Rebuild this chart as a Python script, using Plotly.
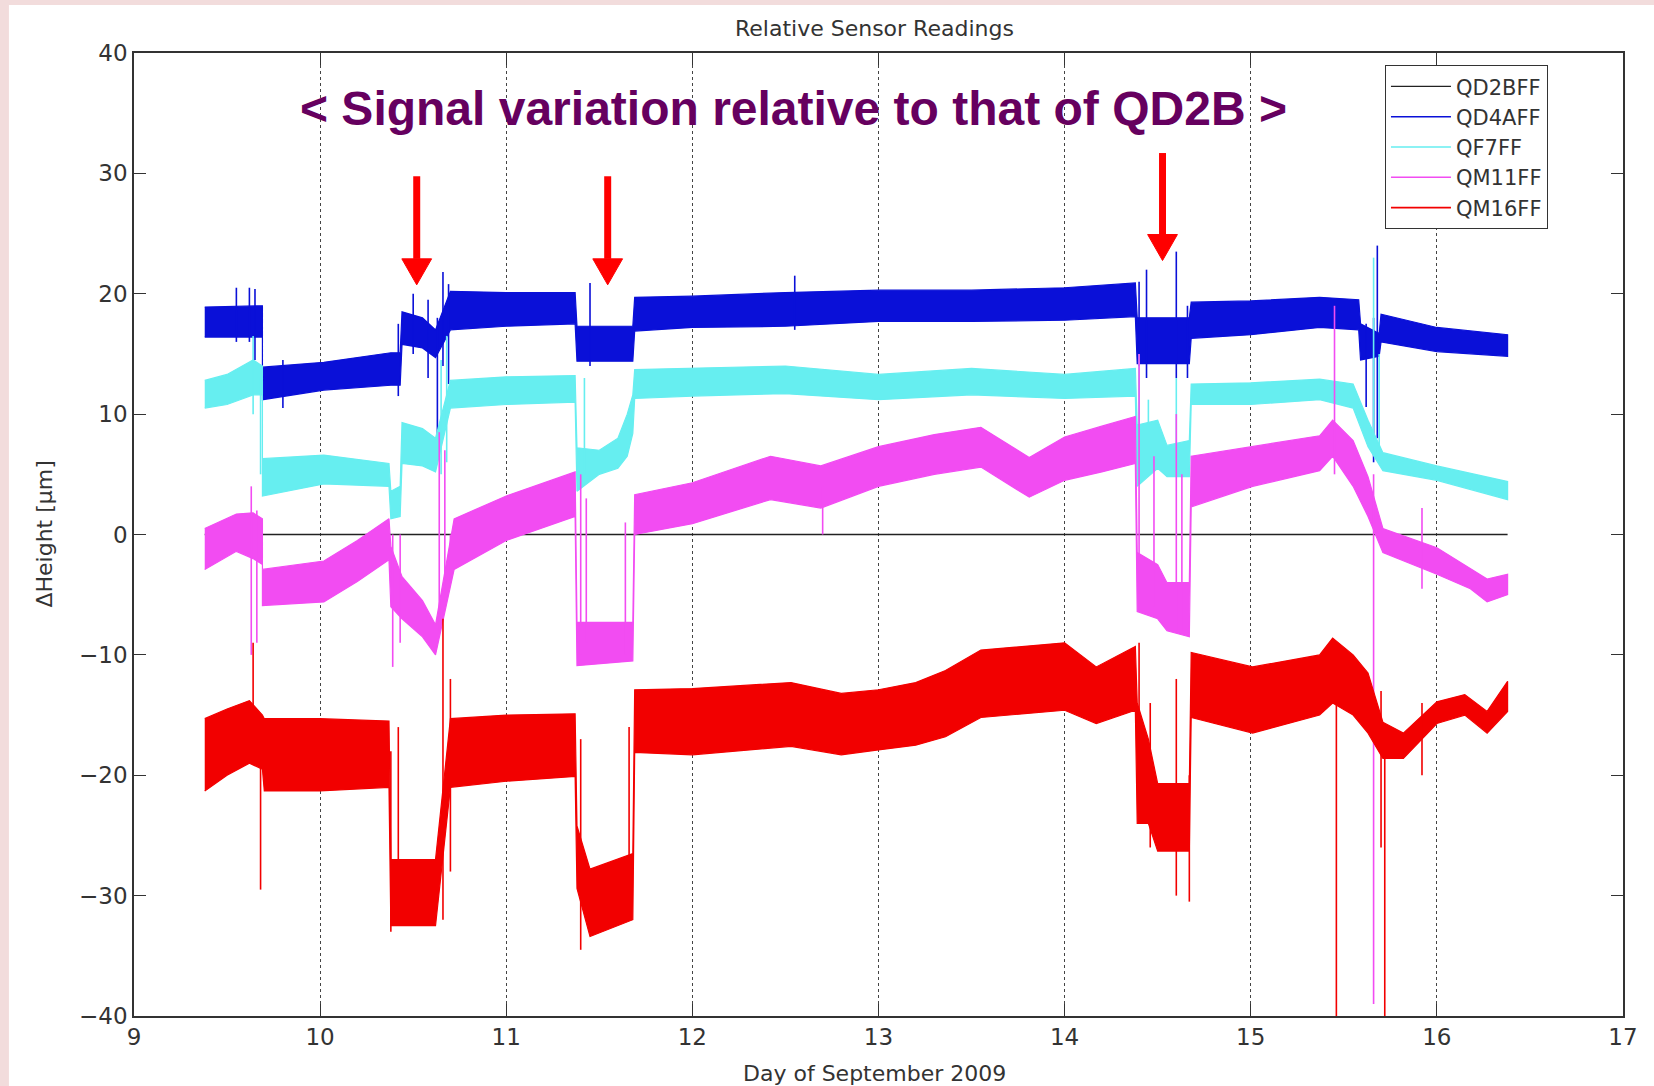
import plotly.graph_objects as go

# ---------------- data ----------------
SERIES_NAMES = ["QD2BFF", "QD4AFF", "QF7FF", "QM11FF", "QM16FF"]
SERIES_COLORS = ["#222222", "#0a10d8", "#66eef0", "#f24cf2", "#f20000"]

QD2BFF_X = [9.38, 16.38]
QD2BFF_Y = [0.0, 0.0]

# band knots: day, lower envelope, upper envelope
QD4AFF_X = [9.38, 9.69, 9.69, 10.02, 10.38, 10.43, 10.44, 10.55, 10.62, 10.70, 11.0, 11.37,
            11.38, 11.68, 11.69, 12.0, 12.5, 13.0, 13.5, 14.0, 14.38, 14.39, 14.67, 14.68,
            15.0, 15.37, 15.58, 15.59, 15.69, 15.70, 16.0, 16.38]
QD4AFF_LO = [16.4, 16.4, 11.2, 12.0, 12.4, 12.4, 15.8, 15.5, 14.7, 17.0, 17.3, 17.5,
             14.4, 14.4, 16.9, 17.2, 17.3, 17.7, 17.7, 17.8, 18.1, 14.2, 14.2, 16.3,
             16.6, 17.2, 17.0, 14.5, 14.8, 16.0, 15.2, 14.8]
QD4AFF_HI = [18.9, 19.0, 13.9, 14.3, 15.1, 15.1, 18.5, 18.0, 17.0, 20.2, 20.1, 20.1,
             17.3, 17.3, 19.7, 19.8, 20.1, 20.3, 20.3, 20.5, 20.9, 18.0, 18.0, 19.3,
             19.4, 19.7, 19.5, 17.5, 16.7, 18.3, 17.2, 16.6]
QD4AFF_SPIKE_X = [9.55, 9.62, 9.65, 9.80, 10.42, 10.50, 10.58, 10.63, 10.66, 10.69, 11.45,
                  12.55, 14.40, 14.44, 14.60, 14.66, 15.62, 15.66, 15.68]
QD4AFF_SPIKE_LO = [16.0, 16.0, 14.5, 10.5, 11.5, 15.0, 13.0, 7.5, 14.0, 12.5, 14.0,
                   17.0, 14.0, 13.0, 13.0, 13.0, 10.6, 6.0, 8.0]
QD4AFF_SPIKE_HI = [20.5, 20.5, 20.4, 14.5, 17.5, 20.0, 19.5, 18.0, 21.8, 20.8, 20.9,
                   21.5, 21.0, 22.0, 23.5, 19.0, 17.5, 18.0, 24.0]

QF7FF_X = [9.38, 9.5, 9.64, 9.69, 9.69, 10.02, 10.37, 10.38, 10.43, 10.44, 10.55, 10.62,
           10.70, 11.0, 11.37, 11.38, 11.5, 11.6, 11.65, 11.68, 11.69, 12.0, 12.5, 13.0,
           13.5, 14.0, 14.38, 14.39, 14.5, 14.55, 14.67, 14.68, 15.0, 15.37, 15.55, 15.63,
           15.71, 16.0, 16.38]
QF7FF_LO = [10.5, 10.8, 11.6, 11.6, 3.2, 4.2, 4.0, 1.3, 1.5, 5.9, 5.7, 5.2,
            10.5, 10.8, 11.0, 3.6, 5.0, 5.5, 6.5, 8.4, 11.3, 11.5, 11.7, 11.2,
            11.6, 11.3, 11.5, 4.0, 5.5, 4.8, 4.8, 10.8, 10.8, 11.2, 10.5, 7.3,
            5.3, 4.5, 2.9]
QF7FF_HI = [12.8, 13.3, 14.5, 14.0, 6.3, 6.6, 5.9, 3.6, 4.0, 9.3, 8.8, 8.0,
            12.8, 13.1, 13.2, 7.2, 7.0, 8.0, 10.0, 11.6, 13.7, 13.8, 14.0, 13.3,
            13.8, 13.3, 13.8, 9.1, 9.5, 7.4, 7.8, 12.5, 12.6, 12.9, 12.5, 9.5,
            6.8, 5.7, 4.4]
QF7FF_SPIKE_X = [9.64, 9.68, 10.65, 10.68, 11.42, 14.40, 14.45, 14.60, 15.66, 15.69]
QF7FF_SPIKE_LO = [10.0, 5.0, 5.0, 6.0, 5.0, 9.0, 6.0, 5.0, 8.0, 7.0]
QF7FF_SPIKE_HI = [16.5, 13.0, 14.5, 16.5, 13.0, 15.0, 11.2, 13.0, 23.0, 15.0]

QM11FF_X = [9.38, 9.55, 9.64, 9.69, 9.69, 10.02, 10.2, 10.37, 10.38, 10.44, 10.55, 10.62,
            10.72, 11.0, 11.37, 11.38, 11.68, 11.69, 12.0, 12.42, 12.69, 13.0, 13.3, 13.55,
            13.81, 14.0, 14.2, 14.38, 14.39, 14.5, 14.55, 14.67, 14.68, 15.01, 15.37, 15.44,
            15.55, 15.63, 15.71, 16.0, 16.18, 16.27, 16.38]
QM11FF_LO = [-2.9, -1.4, -2.0, -2.5, -5.9, -5.6, -3.9, -2.1, -6.0, -7.0, -8.5, -10.0,
             -2.9, -0.5, 1.5, -10.9, -10.5, 0.0, 0.9, 2.9, 2.2, 4.0, 5.0, 5.6,
             3.1, 4.5, 5.2, 5.9, -6.4, -7.0, -8.0, -8.5, 2.3, 4.0, 5.3, 6.5,
             4.0, 1.5, -1.5, -3.3, -4.5, -5.6, -5.0]
QM11FF_HI = [0.5, 1.7, 1.8, 1.3, -2.9, -2.2, -0.5, 1.3, -1.0, -3.5, -5.5, -7.5,
             1.3, 3.2, 5.2, -7.3, -7.3, 3.3, 4.3, 6.5, 5.7, 7.3, 8.3, 8.9,
             6.4, 8.1, 9.0, 9.8, -1.5, -2.5, -4.0, -4.0, 6.5, 7.3, 8.2, 9.5,
             7.8, 4.8, 0.5, -1.1, -2.8, -3.7, -3.3]
QM11FF_SPIKE_X = [9.63, 9.66, 10.39, 10.43, 10.64, 10.67, 10.70, 11.40, 11.43, 11.64, 12.70,
                  14.40, 14.48, 14.60, 14.63, 15.45, 15.66, 15.92]
QM11FF_SPIKE_LO = [-10.0, -9.0, -11.0, -9.0, -8.0, -5.0, -4.0, -10.0, -9.0, -10.0, 0.0,
                   -5.0, -6.0, -8.0, -8.0, 5.0, -39.0, -4.5]
QM11FF_SPIKE_HI = [4.0, 2.0, 0.0, 0.0, 8.5, 7.0, 0.0, 5.0, 3.0, 1.0, 4.0,
                   15.0, 6.5, 10.0, 5.0, 19.0, 5.0, 2.2]

QM16FF_X = [9.38, 9.5, 9.62, 9.69, 9.70, 10.0, 10.37, 10.38, 10.62, 10.70, 11.0, 11.37,
            11.38, 11.45, 11.68, 11.69, 12.0, 12.53, 12.8, 13.0, 13.2, 13.36, 13.55, 14.0,
            14.17, 14.38, 14.39, 14.45, 14.5, 14.67, 14.68, 15.01, 15.37, 15.44, 15.55, 15.63,
            15.71, 15.82, 16.0, 16.15, 16.27, 16.38]
QM16FF_LO = [-21.3, -20.0, -19.0, -19.5, -21.3, -21.3, -21.0, -32.5, -32.5, -21.0, -20.5, -20.1,
             -29.4, -33.4, -32.0, -18.1, -18.3, -17.6, -18.3, -17.9, -17.5, -16.8, -15.2, -14.6,
             -15.7, -14.6, -24.0, -24.0, -26.3, -26.3, -15.2, -16.5, -15.0, -14.0, -15.0, -16.5,
             -18.6, -18.6, -15.7, -15.0, -16.5, -14.7]
QM16FF_HI = [-15.3, -14.5, -13.8, -15.0, -15.3, -15.3, -15.5, -27.0, -27.0, -15.3, -15.0, -14.9,
             -24.2, -27.8, -26.5, -12.9, -12.8, -12.3, -13.2, -12.9, -12.3, -11.3, -9.6, -9.0,
             -11.0, -9.3, -14.0, -17.0, -20.7, -20.7, -9.8, -11.0, -10.0, -8.6, -10.0, -11.5,
             -15.6, -16.5, -13.9, -13.3, -14.7, -12.2]
QM16FF_SPIKE_X = [9.64, 9.68, 10.38, 10.42, 10.66, 10.70, 11.40, 11.66, 14.40, 14.46, 14.60,
                  14.67, 15.46, 15.70, 15.72, 15.92]
QM16FF_SPIKE_LO = [-19.0, -29.5, -33.0, -31.0, -32.0, -28.0, -34.5, -30.0, -24.0, -26.0, -30.0,
                   -30.5, -42.0, -26.0, -42.0, -20.0]
QM16FF_SPIKE_HI = [-9.0, -16.0, -18.0, -16.0, -7.0, -12.0, -17.0, -16.0, -9.0, -14.0, -12.0,
                   -20.0, -10.0, -13.0, -16.0, -14.0]

# arrows marking events
ARROW_X = [10.519, 11.545, 14.526]
ARROW_TAIL = [29.76, 29.76, 31.69]
ARROW_TIP = [20.74, 20.74, 22.76]

X_TICKS = [9, 10, 11, 12, 13, 14, 15, 16, 17]
Y_TICKS = [-40, -30, -20, -10, 0, 10, 20, 30, 40]

TITLE = "Relative Sensor Readings"
X_TITLE = "Day of September 2009"
Y_TITLE = "ΔHeight [μm]"
BANNER = "< Signal variation relative to that of QD2B >"

# ---------------- figure ----------------
FONT = "DejaVu Sans"
TXT = "#333333"

fig = go.Figure()

fig.add_trace(go.Scatter(x=QD2BFF_X, y=QD2BFF_Y, mode="lines", name=SERIES_NAMES[0],
                         line=dict(color=SERIES_COLORS[0], width=1.3), hoverinfo="skip"))

bands = [
    (QD4AFF_X, QD4AFF_LO, QD4AFF_HI, QD4AFF_SPIKE_X, QD4AFF_SPIKE_LO, QD4AFF_SPIKE_HI),
    (QF7FF_X, QF7FF_LO, QF7FF_HI, QF7FF_SPIKE_X, QF7FF_SPIKE_LO, QF7FF_SPIKE_HI),
    (QM11FF_X, QM11FF_LO, QM11FF_HI, QM11FF_SPIKE_X, QM11FF_SPIKE_LO, QM11FF_SPIKE_HI),
    (QM16FF_X, QM16FF_LO, QM16FF_HI, QM16FF_SPIKE_X, QM16FF_SPIKE_LO, QM16FF_SPIKE_HI),
]

for i, (bx, blo, bhi, sx, slo, shi) in enumerate(bands, start=1):
    name = SERIES_NAMES[i]
    color = SERIES_COLORS[i]
    fig.add_trace(go.Scatter(x=list(bx) + list(bx)[::-1], y=list(bhi) + list(blo)[::-1],
                             fill="toself", fillcolor=color, mode="lines",
                             line=dict(color=color, width=1.2), legendgroup=name,
                             showlegend=False, hoverinfo="skip"))
    xs, ys = [], []
    for x, lo, hi in zip(sx, slo, shi):
        xs += [x, x, None]
        ys += [lo, hi, None]
    fig.add_trace(go.Scatter(x=xs, y=ys, mode="lines", name=name, legendgroup=name,
                             line=dict(color=color, width=1.6), hoverinfo="skip"))

shapes = [
    dict(type="rect", xref="paper", yref="paper", x0=-0.084, x1=1.03, y0=-0.08, y1=1.0498,
         fillcolor="white", line=dict(width=0), layer="below"),
]
HEAD_H = 2.16
HEAD_W = 0.08
for ax, at, tip in zip(ARROW_X, ARROW_TAIL, ARROW_TIP):
    shapes.append(dict(type="line", xref="x", yref="y", x0=ax, x1=ax, y0=at, y1=tip + HEAD_H,
                       line=dict(color="#ff0000", width=7)))
    shapes.append(dict(type="path", xref="x", yref="y",
                       path=f"M {ax - HEAD_W},{tip + HEAD_H} L {ax + HEAD_W},{tip + HEAD_H} L {ax},{tip} Z",
                       fillcolor="#ff0000", line=dict(color="#ff0000", width=1)))

annotations = [
    dict(text=TITLE, xref="paper", yref="paper", x=0.497, y=1.0254, xanchor="center",
         yanchor="middle", showarrow=False, font=dict(family=FONT, size=22, color=TXT)),
    dict(text=X_TITLE, xref="paper", yref="paper", x=0.497, y=-0.0602, xanchor="center",
         yanchor="middle", showarrow=False, font=dict(family=FONT, size=22, color=TXT)),
    dict(text=Y_TITLE, xref="paper", yref="paper", x=-0.0604, y=0.5, xanchor="center",
         yanchor="middle", textangle=-90, showarrow=False,
         font=dict(family=FONT, size=22, color=TXT)),
    dict(text="<b>" + BANNER + "</b>", xref="paper", yref="paper", x=0.443, y=0.942,
         xanchor="center", yanchor="middle", showarrow=False,
         font=dict(family="Liberation Sans", size=48, color="#66005f")),
]

axis_common = dict(showline=True, linecolor="#333333", linewidth=1.5, mirror="ticks",
                   ticks="inside", ticklen=12, tickwidth=1.3, tickcolor="#333333",
                   zeroline=False, tickfont=dict(family=FONT, size=23, color=TXT))

fig.update_layout(
    width=1654, height=1086,
    margin=dict(l=134, r=31, t=53, b=70),
    paper_bgcolor="#f2dcdc", plot_bgcolor="white",
    shapes=shapes, annotations=annotations,
    xaxis=dict(range=[9, 17], tickvals=X_TICKS, showgrid=True, gridcolor="#444444",
               griddash="dot", gridwidth=1, **axis_common),
    yaxis=dict(range=[-40, 40], tickvals=Y_TICKS, showgrid=False, **axis_common),
    legend=dict(x=0.840, y=0.9875, xanchor="left", yanchor="top", bgcolor="white",
                bordercolor="#333333", borderwidth=1.2,
                font=dict(family=FONT, size=21, color=TXT), tracegroupgap=0,
                itemwidth=60),
    showlegend=True,
)

fig.write_html("out.html")
